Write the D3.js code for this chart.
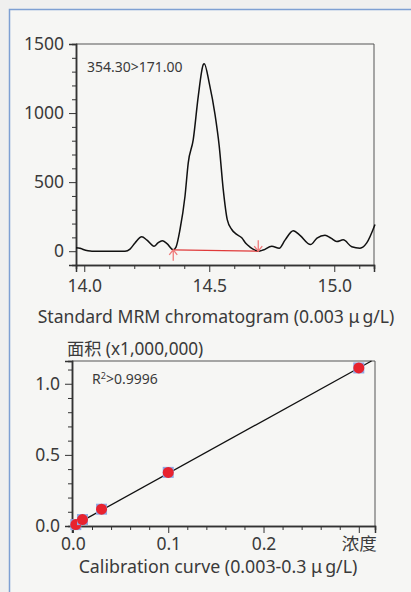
<!DOCTYPE html>
<html>
<head>
<meta charset="utf-8">
<script src="https://cdn.jsdelivr.net/npm/d3@7"></script>
<style>
  html, body { margin: 0; padding: 0; background: #ffffff; }
  svg { display: block; }
  text { font-family: "Noto Sans", "Noto Sans CJK SC", sans-serif; fill: #3a3a3a; }
</style>
</head>
<body>
<svg id="chart"></svg>
<script>
// chromatogram trace (retention time, intensity)
const rtTimes = [13.967, 13.983, 13.996, 14.015, 14.031, 14.063, 14.103, 14.143, 14.163, 14.183,
  14.203, 14.230, 14.251, 14.279, 14.295, 14.312, 14.331, 14.356, 14.367, 14.383,
  14.403, 14.416, 14.436, 14.456, 14.476, 14.480, 14.500, 14.523, 14.540, 14.556,
  14.572, 14.590, 14.607, 14.630, 14.647, 14.663, 14.683, 14.696, 14.715, 14.750,
  14.780, 14.803, 14.836, 14.863, 14.905, 14.931, 14.963, 14.987, 15.010, 15.036,
  15.070, 15.103, 15.130, 15.163];
const intensity = [25, 22, 12, 3, 0, 0, 0, 0, 0, 15,
  60, 104, 80, 36, 60, 75, 55, 10, 30, 157,
  398, 640, 808, 1121, 1350, 1357, 1217, 990, 759, 446,
  229, 157, 125, 97, 55, 30, 8, 0, 8, 36,
  22, 80, 148, 115, 48, 95, 116, 95, 70, 82,
  32, 22, 60, 193];
// integration baseline start / end
const baseTimes = [14.356, 14.696];
const baseLevels = [10, 0];

const rtMajor = [14.0, 14.5, 15.0];
const rtMinor = [14.1, 14.2, 14.3, 14.4, 14.6, 14.7, 14.8, 14.9, 15.1];
const intMajor = [0, 500, 1000, 1500];
const intMinor = [-100, 100, 200, 300, 400, 600, 700, 800, 900, 1100, 1200, 1300, 1400];

// calibration curve
const concs = [0.003, 0.01, 0.03, 0.1, 0.3];
const areas = [0.01, 0.045, 0.118, 0.377, 1.111];
const fitX = [0.003, 0.3133];
const fitY = [0.011, 1.16];
const concMajor = [0, 0.1, 0.2, 0.3];
const concLabels = ["0.0", "0.1", "0.2", "浓度"];
const concMinor = [0.02, 0.04, 0.06, 0.08, 0.12, 0.14, 0.16, 0.18, 0.22, 0.24, 0.26, 0.28];
const areaMajor = [0, 0.5, 1.0];
const areaMinor = [0.1, 0.2, 0.3, 0.4, 0.6, 0.7, 0.8, 0.9, 1.1];

const W = 411, H = 592;
const svg = d3.select("#chart").attr("width", W).attr("height", H);

// page and panel
svg.append("rect").attr("width", W).attr("height", H).attr("fill", "#efefef");
svg.append("rect")
    .attr("x", 9.5).attr("y", 9.5)
    .attr("width", W + 20).attr("height", H + 20)
    .attr("fill", "#f6f6f4")
    .attr("stroke", "#7d9fd3")
    .attr("stroke-width", 1.5);

// ---------- top chart ----------
const x1 = d3.scaleLinear().domain([13.967, 15.159]).range([76, 374]);
const y1 = d3.scaleLinear().domain([-100, 1500]).range([265, 44]);

const topG = svg.append("g");

topG.append("path")
    .attr("d", `M${x1.range()[0]},${y1.range()[1]}H${x1.range()[1]}V${y1.range()[0]}`)
    .attr("fill", "none").attr("stroke", "#555").attr("stroke-width", 1);

const fmt1 = d3.format(".1f");

topG.append("g")
    .attr("transform", `translate(0,${y1.range()[0]})`)
    .call(d3.axisBottom(x1).tickValues(rtMinor).tickSize(4).tickFormat(""));
topG.append("g")
    .attr("transform", `translate(0,${y1.range()[0]})`)
    .call(d3.axisBottom(x1).tickValues(rtMajor).tickSize(7).tickPadding(8).tickFormat(fmt1));
topG.append("g")
    .attr("transform", `translate(${x1.range()[0]},0)`)
    .call(d3.axisLeft(y1).tickValues(intMinor).tickSize(4).tickFormat(""));
topG.append("g")
    .attr("transform", `translate(${x1.range()[0]},0)`)
    .call(d3.axisLeft(y1).tickValues(intMajor).tickSize(7).tickPadding(5).tickFormat(d3.format("d")));

const line1 = d3.line()
    .x((d, i) => x1(rtTimes[i]))
    .y(d => y1(d))
    .curve(d3.curveMonotoneX);

topG.append("path")
    .datum(intensity)
    .attr("d", line1)
    .attr("fill", "none")
    .attr("stroke", "#111")
    .attr("stroke-width", 1.5);

// baseline and markers
topG.append("line")
    .attr("x1", x1(baseTimes[0])).attr("y1", y1(baseLevels[0]))
    .attr("x2", x1(baseTimes[1])).attr("y2", y1(baseLevels[1]))
    .attr("stroke", "#e03a3a").attr("stroke-width", 1.2);

const arrowColor = "#f07a7a";
const a0x = x1(baseTimes[0]), a0y = y1(baseLevels[0]);
topG.append("path")
    .attr("d", `M${a0x},${a0y + 11}V${a0y}M${a0x - 4},${a0y + 5}L${a0x},${a0y}L${a0x + 4},${a0y + 5}`)
    .attr("fill", "none").attr("stroke", arrowColor).attr("stroke-width", 1.3);
const a1x = x1(baseTimes[1]), a1y = y1(baseLevels[1]);
topG.append("path")
    .attr("d", `M${a1x},${a1y - 11}V${a1y}M${a1x - 4},${a1y - 5}L${a1x},${a1y}L${a1x + 4},${a1y - 5}`)
    .attr("fill", "none").attr("stroke", arrowColor).attr("stroke-width", 1.3);

topG.append("text")
    .attr("x", 87).attr("y", 72)
    .style("font-size", "14px")
    .text("354.30>171.00");

svg.append("text")
    .attr("x", 216).attr("y", 323)
    .attr("text-anchor", "middle")
    .style("font-size", "17.6px")
    .text("Standard MRM chromatogram (0.003\u00a0\u03bc\u2009g/L)");

// ---------- bottom chart ----------
const x2 = d3.scaleLinear().domain([-0.001, 0.317]).range([72, 375]);
const y2 = d3.scaleLinear().domain([0, 1.16]).range([526, 361]);

const botG = svg.append("g");

botG.append("path")
    .attr("d", `M${x2.range()[0]},${y2.range()[1]}H${x2.range()[1]}V${y2.range()[0]}`)
    .attr("fill", "none").attr("stroke", "#555").attr("stroke-width", 1);

botG.append("g")
    .attr("transform", `translate(0,${y2.range()[0]})`)
    .call(d3.axisBottom(x2).tickValues(concMinor).tickSize(4).tickFormat(""));
botG.append("g")
    .attr("transform", `translate(0,${y2.range()[0]})`)
    .call(d3.axisBottom(x2).tickValues(concMajor).tickSize(7).tickPadding(5)
      .tickFormat((d, i) => concLabels[i]));
botG.append("g")
    .attr("transform", `translate(${x2.range()[0]},0)`)
    .call(d3.axisLeft(y2).tickValues(areaMinor).tickSize(4).tickFormat(""));
botG.append("g")
    .attr("transform", `translate(${x2.range()[0]},0)`)
    .call(d3.axisLeft(y2).tickValues(areaMajor).tickSize(7).tickPadding(5).tickFormat(fmt1));

botG.append("line")
    .attr("x1", x2(fitX[0])).attr("y1", y2(fitY[0]))
    .attr("x2", x2(fitX[1])).attr("y2", y2(fitY[1]))
    .attr("stroke", "#111").attr("stroke-width", 1.3);

const pts = botG.selectAll(".pt")
    .data(concs)
  .enter().append("g")
    .attr("class", "pt")
    .attr("transform", (d, i) => `translate(${x2(d)},${y2(areas[i])})`);

pts.append("rect")
    .attr("x", -5.5).attr("y", -5.5)
    .attr("width", 11).attr("height", 11)
    .attr("fill", "#8ea8e4");
pts.append("circle")
    .attr("r", 5.5)
    .attr("fill", "#e8222e");

botG.append("text")
    .attr("x", 92).attr("y", 384)
    .style("font-size", "14px")
    .html('R<tspan dy="-5" style="font-size:9px">2</tspan><tspan dy="5">&gt;0.9996</tspan>');

svg.append("text")
    .attr("x", 67).attr("y", 355)
    .style("font-size", "17.2px")
    .text("面积 (x1,000,000)");

svg.append("text")
    .attr("x", 218).attr("y", 573)
    .attr("text-anchor", "middle")
    .style("font-size", "17.8px")
    .text("Calibration curve (0.003-0.3\u00a0\u03bc\u2009g/L)");

// axis styling
svg.selectAll(".domain").attr("stroke", "#333").attr("stroke-width", 1.5);
svg.selectAll(".tick line").attr("stroke", "#333");
svg.selectAll(".tick text")
    .style("font-size", "17.5px")
    .attr("fill", "#3a3a3a")
    .style("font-family", '"Noto Sans", "Noto Sans CJK SC", sans-serif');
</script>
</body>
</html>
